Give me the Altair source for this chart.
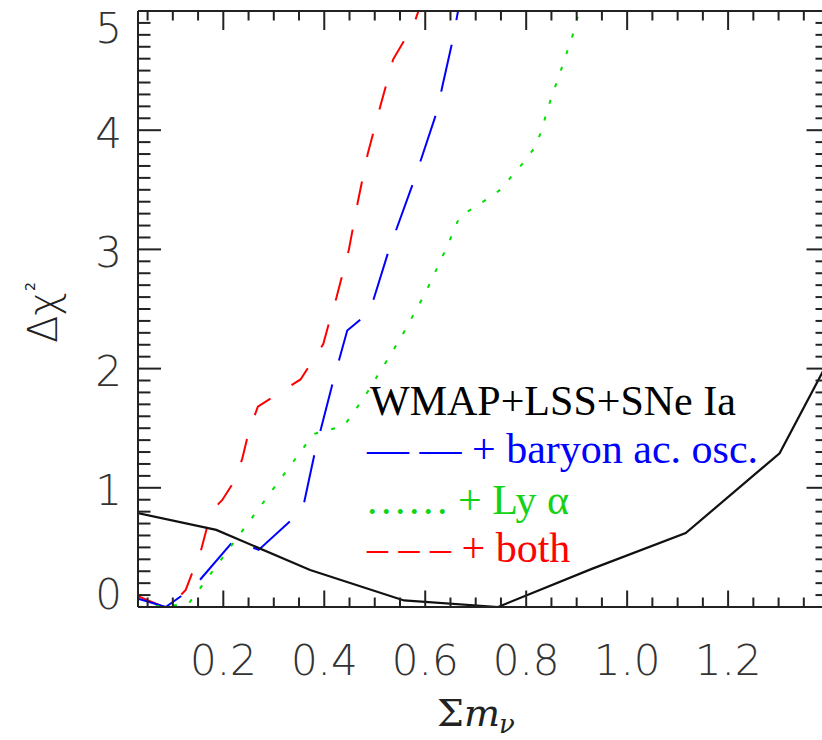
import altair as alt
import pandas as pd

# Delta chi^2 versus the summed neutrino mass for four data combinations
base_x = [0.0, 0.186, 0.372, 0.558, 0.744, 0.93, 1.116, 1.302, 1.488]
base_y = [0.815, 0.647, 0.31, 0.055, 0.0, 0.32, 0.62, 1.29, 2.78]

bao_x = [0.031, 0.086, 0.141, 0.2215, 0.27, 0.357, 0.381, 0.418, 0.4455, 0.49,
         0.528, 0.577, 0.6236, 0.6335, 0.6545, 0.665]
bao_y = [0.07, 0.0, 0.165, 0.562, 0.479, 0.816, 1.29, 1.90, 2.32, 2.477,
         2.995, 3.568, 4.161, 4.36, 4.757, 5.0]

lya_x = [0.031, 0.13, 0.379, 0.439, 0.478, 0.551, 0.600, 0.643, 0.668, 0.7257,
         0.752, 0.774, 0.795, 0.816, 0.828, 0.848, 0.871, 0.893, 0.905]
lya_y = [0.0, 0.02, 1.451, 1.52, 1.751, 2.254, 2.632, 3.02, 3.274, 3.43,
         3.51, 3.63, 3.73, 3.85, 3.97, 4.25, 4.53, 4.81, 5.0]

both_x = [0.031, 0.08, 0.109, 0.1255, 0.142, 0.155, 0.1716, 0.185, 0.198, 0.223,
          0.2377, 0.2496, 0.2684, 0.3016, 0.353, 0.3715, 0.398, 0.411, 0.4243,
          0.4486, 0.4665, 0.486, 0.511, 0.5365, 0.561, 0.577, 0.5866]
both_y = [0.09, 0.005, 0.07, 0.143, 0.325, 0.464, 0.73, 0.841, 0.898, 1.065,
          1.247, 1.457, 1.681, 1.770, 1.909, 2.03, 2.206, 2.408, 2.598,
          2.995, 3.40, 3.80, 4.20, 4.595, 4.77, 4.883, 5.0]

# Axis ticks and labels
x_major = [0.2, 0.4, 0.6, 0.8, 1.0, 1.2]
x_labels = ["0.2", "0.4", "0.6", "0.8", "1.0", "1.2"]
x_minor = [round(0.05 * i, 2) for i in range(1, 28) if i % 4 != 0]
y_major = [0, 1, 2, 3, 4, 5]
y_labels = ["0", "1", "2", "3", "4", "5"]
y_minor = [round(0.1 * i, 1) for i in range(1, 50) if i % 10 != 0]

legend_lines = [
    ("WMAP+LSS+SNe Ia", "#000000"),
    ("\u2014 \u2014 + baryon ac. osc.", "#0000ff"),
    ("\u200a.\u200a.\u200a.\u200a.\u200a.\u200a. + Ly \u03b1", "#14d214"),
    ("\u2013 \u2013 \u2013 + both", "#ff0000"),
]

W, H = 684, 596
FRAME = "#222222"
LABEL_FONT = "DejaVu Sans"
LABEL_COLOR = "#333333"

xs = alt.Scale(domain=[0.031, 1.386], nice=False, zero=False)
ys = alt.Scale(domain=[0, 5], nice=False, zero=False)


def curve(xv, yv, color, dash=None, width=2.0):
    df = pd.DataFrame({"m": xv, "chi": yv})
    kw = dict(color=color, strokeWidth=width, clip=True)
    if dash:
        kw["strokeDash"] = dash
    return alt.Chart(df).mark_line(**kw).encode(
        x=alt.X("m:Q", scale=xs, axis=None),
        y=alt.Y("chi:Q", scale=ys, axis=None),
        order="m:Q",
    )


def xticks(vals, y0, y1):
    return alt.Chart(pd.DataFrame({"v": vals})).mark_rule(
        color=FRAME, strokeWidth=2).encode(
        x=alt.X("v:Q", scale=xs, axis=None), y=alt.value(y0), y2=alt.value(y1))


def yticks(vals, x0, x1):
    return alt.Chart(pd.DataFrame({"v": vals})).mark_rule(
        color=FRAME, strokeWidth=2).encode(
        y=alt.Y("v:Q", scale=ys, axis=None), x=alt.value(x0), x2=alt.value(x1))


def xlabels(vals, texts):
    df = pd.DataFrame({"v": vals, "t": texts})
    return alt.Chart(df).mark_text(
        font=LABEL_FONT, fontSize=42, fontWeight=200, color=LABEL_COLOR,
        align="center", baseline="alphabetic").encode(
        x=alt.X("v:Q", scale=xs, axis=None), y=alt.value(H + 68), text="t:N")


def ylabels(vals, texts, dy):
    df = pd.DataFrame({"v": vals, "t": texts})
    return alt.Chart(df).mark_text(
        font=LABEL_FONT, fontSize=42, fontWeight=200, color=LABEL_COLOR,
        align="right", baseline="alphabetic", dy=dy).encode(
        y=alt.Y("v:Q", scale=ys, axis=None), x=alt.value(-16), text="t:N")


one = pd.DataFrame({"k": [0]})


def frame_line(**enc):
    return alt.Chart(one).mark_rule(color=FRAME, strokeWidth=2).encode(**enc)


def label(text, x, y, size, color="#000000", font="Liberation Serif", style="normal",
          angle=0, align="left", weight="normal"):
    return alt.Chart(one).mark_text(
        text=text, font=font, fontSize=size, color=color, fontStyle=style,
        angle=angle, align=align, baseline="alphabetic", fontWeight=weight,
    ).encode(x=alt.value(x), y=alt.value(y))


layers = [
    curve(both_x, both_y, "#ff0000", dash=[24, 25]),
    curve(bao_x, bao_y, "#0000ff", dash=[48, 25]),
    curve(lya_x, lya_y, "#00e000", dash=[4, 13.5]),
    curve(base_x, base_y, "#111111", width=2.2),
    # frame
    frame_line(x=alt.value(0), y=alt.value(0), y2=alt.value(H)),
    frame_line(y=alt.value(0), x=alt.value(0), x2=alt.value(W)),
    frame_line(y=alt.value(H), x=alt.value(0), x2=alt.value(W)),
    # inward ticks
    xticks(x_major, H, H - 16.5), xticks(x_minor, H, H - 9.5),
    xticks(x_major, 0, 19), xticks(x_minor, 0, 9.5),
    yticks(y_major, 0, 23), yticks(y_minor, 0, 12.5),
    yticks(y_major, W - 15.5, W), yticks(y_minor, W - 6.5, W),
    # tick labels
    xlabels(x_major, x_labels),
    ylabels(y_major[1:5], y_labels[1:5], 17.5),
    ylabels(y_major[:1], y_labels[:1], 2),
    ylabels(y_major[5:], y_labels[5:], 32),
]

# legend block
baselines = [404, 452, 503, 551]
for (txt, col), yb in zip(legend_lines, baselines):
    layers.append(label(txt, 232 if col == "#000000" else 229, yb, 42, color=col))

# axis titles
layers += [
    label("\u0394\u03c7", -81, 332, 40, color="#222222", font=LABEL_FONT, angle=270,
          weight=200),
    label("2", -103, 280, 14, color="#222222", font=LABEL_FONT, angle=270),
    label("\u03a3", 299, 715, 38, color="#222222", font="DejaVu Serif"),
    label("m", 326, 715, 38, color="#222222", font="DejaVu Serif", style="italic"),
    label("\u03bd", 361, 722, 26, color="#222222", font="DejaVu Serif", style="italic"),
]

chart = alt.layer(*layers).properties(
    width=W, height=H,
    padding={"left": 138, "top": 11, "right": 0, "bottom": 133},
    autosize=alt.AutoSizeParams(type="none"),
    background="white",
).configure_view(stroke=None)

chart.save("out.html", embed_options={"renderer": "svg", "actions": False})
